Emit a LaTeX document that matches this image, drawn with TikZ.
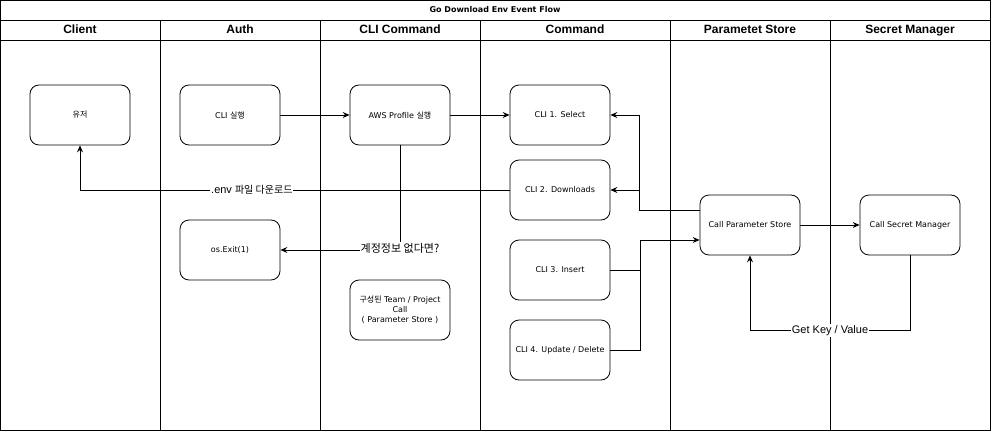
\documentclass[tikz,border=0pt]{standalone}
\usepackage{fontspec}
\setmainfont{Liberation Sans}
\newfontfamily\boxfont{DejaVu Sans}
\newfontfamily\krfont{Noto Sans CJK KR}
\usetikzlibrary{arrows.meta}

\begin{document}
\begin{tikzpicture}[x=1pt, y=-1pt,
        box/.style={draw, line width=0.8pt, rounded corners=9pt, minimum width=100pt, minimum height=60pt,
            align=center, inner sep=1pt, font=\boxfont\fontsize{8}{10}\selectfont},
        flow/.style={draw, line width=0.8pt, -{Stealth[length=7pt, width=6pt, inset=2.5pt]}},
        lbl/.style={fill=white, inner sep=1pt, font=\fontsize{11}{13}\selectfont},
        head/.style={font=\bfseries\fontsize{12}{14}\selectfont, text height=9pt, text depth=2.5pt}]
        \useasboundingbox (0,0) rectangle (991,431);

        % lanes
        \draw[line width=0.8pt] (0.5,0.5) rectangle (990.5,430.5);
        \draw[line width=0.8pt] (0.5,20) -- (990.5,20);
        \draw[line width=0.8pt] (0.5,40) -- (990.5,40);
        \foreach \x in {160,320,480,670,830}
            \draw[line width=0.8pt] (\x,20) -- (\x,430.5);

        \node[font=\boxfont\bfseries\fontsize{8}{10}\selectfont] (title) at (495,10) {Go Download Env Event Flow};
        \node[head] (hclient) at (80,30) {Client};
        \node[head] (hauth) at (240,30) {Auth};
        \node[head] (hcli) at (400,30) {CLI Command};
        \node[head] (hcmd) at (575,30) {Command};
        \node[head] (hparam) at (750,30) {Parametet Store};
        \node[head] (hsecret) at (910,30) {Secret Manager};

        % nodes
        \node[box] (user) at (80,115) {\krfont 유저};
        \node[box] (run) at (230,115) {CLI {\krfont 실행}};
        \node[box] (aws) at (400,115) {AWS Profile {\krfont 실행}};
        \node[box] (exit) at (230,250) {os.Exit(1)};
        \node[box] (team) at (400,310) {{\krfont 구성된} Team / Project\\Call\\( Parameter Store )};
        \node[box] (select) at (560,115) {CLI 1. Select};
        \node[box] (down) at (560,190) {CLI 2. Downloads};
        \node[box] (insert) at (560,270) {CLI 3. Insert};
        \node[box] (update) at (560,350) {CLI 4. Update / Delete};
        \node[box] (param) at (750,225) {Call Parameter Store};
        \node[box] (secret) at (910,225) {Call Secret Manager};

        \coordinate (bus) at (640,190);

        % connectors
        \draw[flow] (run) -- (aws);
        \draw[flow] (aws) -- (select);
        \draw[flow] ([yshift=15pt]param.west) -- ++(-60,0) |- (select.east);
        \draw[flow] (bus) -- (down.east);
        \draw[flow] (down.west) -| node[lbl, pos=0.3] {.env {\krfont\fontsize{10}{12}\selectfont 파일 다운로드}} (user.south);
        \draw[flow] (aws.south) |- node[lbl, pos=0.5, yshift=2pt] {\krfont 계정정보 없다면?} (exit.east);
        \draw[flow] (insert.east) -- ++(30,0) |- ([yshift=-15pt]param.west);
        \draw[line width=0.8pt] (update.east) -- ++(30,0) -- ++(0,-80);
        \draw[flow] (param) -- (secret);
        \draw[flow] (secret.south) -- ++(0,75) -| node[lbl, pos=0.25] {Get Key / Value} (param.south);
    \end{tikzpicture}
\end{document}
